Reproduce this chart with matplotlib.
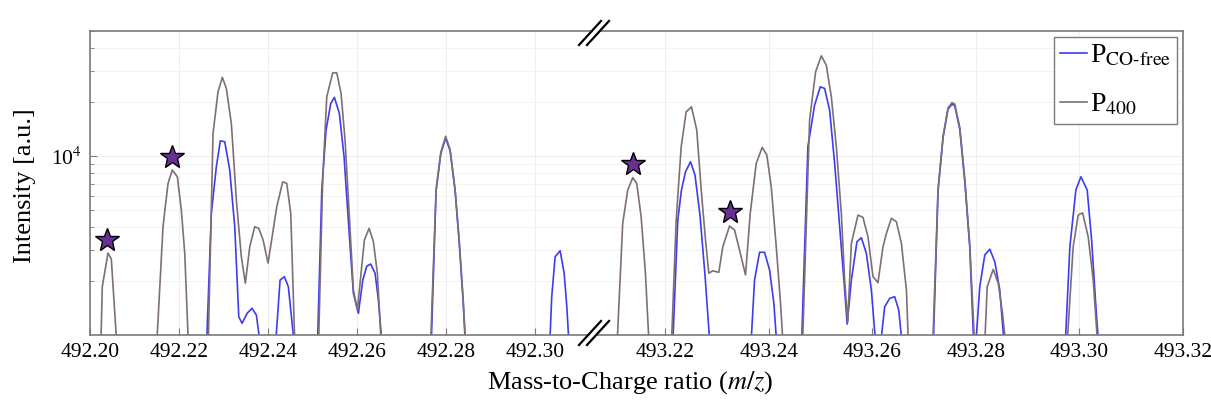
import numpy as np
import matplotlib.pyplot as plt
from matplotlib.lines import Line2D
from matplotlib.patches import Polygon
from matplotlib.ticker import FixedLocator, LogLocator, NullFormatter

plt.rcParams['font.family'] = ['Liberation Serif', 'DejaVu Serif']
plt.rcParams['mathtext.fontset'] = 'stix'

# profile spectra (m/z, intensity); 800 = signal dropped below the plotted range
mz_co_free = [
    492.22613, 492.22726, 492.22838, 492.22928, 492.23027, 492.23139, 492.23252, 492.23342, 492.23416,
    492.23535, 492.23640, 492.23737, 492.23849,
    492.24157, 492.24270, 492.24366, 492.24456, 492.24607,
    492.25106, 492.25207, 492.25303, 492.25409, 492.25490, 492.25602, 492.25708, 492.25813, 492.25917,
    492.26029, 492.26128, 492.26218, 492.26307, 492.26404, 492.26479, 492.26575,
    492.27660, 492.27775, 492.27881, 492.27989, 492.28090, 492.28202, 492.28292, 492.28382, 492.28443,
    492.30321, 492.30373, 492.30449, 492.30562, 492.30652, 492.30712, 492.30771,
    493.22135, 493.22238, 493.22309, 493.22387, 493.22484, 493.22571, 493.22667, 493.22764, 493.22870,
    493.23644, 493.23721, 493.23818, 493.23915, 493.24012, 493.24095, 493.24161,
    493.24625, 493.24752, 493.24882, 493.24992, 493.25075, 493.25172, 493.25269, 493.25366, 493.25463,
    493.25511, 493.25592, 493.25700, 493.25785, 493.25882, 493.25979, 493.26075,
    493.26139, 493.26236, 493.26333, 493.26429, 493.26507, 493.26590,
    493.27170, 493.27267, 493.27364, 493.27460, 493.27538, 493.27590, 493.27687, 493.27783, 493.27880,
    493.27963,
    493.27986, 493.28073, 493.28170, 493.28267, 493.28364, 493.28460, 493.28557,
    493.29718, 493.29814, 493.29930, 493.30027, 493.30149, 493.30234, 493.30317, 493.30381,
]
int_co_free = [
    800, 4786, 8716, 12170, 12020, 8355, 4027, 1265, 1162,
    1327, 1410, 1294, 800,
    800, 2027, 2118, 1862, 800,
    800, 6457, 13970, 19680, 21280, 17330, 9910, 4027, 1710,
    1321, 2027, 2427, 2493, 2213, 1570, 800,
    800, 6400, 10300, 12600, 10700, 6400, 3350, 1550, 800,
    800, 1637, 2735, 2957, 2213, 1439, 800,
    800, 4385, 6457, 8170, 9293, 7830, 4678, 2163, 800,
    800, 2027, 2898, 2898, 2306, 1503, 800,
    800, 11270, 19270, 24380, 23880, 18070, 9103, 4027, 1783,
    1151, 2027, 3320, 3497, 2858, 1783, 800,
    800, 1439, 1602, 1637, 1380, 800,
    800, 6400, 12700, 18300, 19500, 19100, 14100, 7250, 3080,
    800,
    800, 1862, 2800, 3016, 2565, 1783, 800,
    800, 3111, 6457, 7660, 6457, 3397, 1439, 800,
]

mz_400 = [
    492.20240, 492.20276, 492.20404, 492.20479, 492.20613,
    492.21490, 492.21640, 492.21753, 492.21849, 492.21962, 492.22052, 492.22128, 492.22218,
    492.22652, 492.22764, 492.22876, 492.22973, 492.23063, 492.23175, 492.23288, 492.23400, 492.23490,
    492.23589, 492.23701, 492.23791, 492.23888, 492.24000, 492.24196, 492.24330, 492.24420, 492.24510,
    492.24607,
    492.25130, 492.25227, 492.25319, 492.25452, 492.25544, 492.25640, 492.25730, 492.25827, 492.25917,
    492.26007, 492.26164, 492.26270, 492.26366, 492.26456, 492.26553,
    492.27645, 492.27775, 492.27881, 492.27989, 492.28090, 492.28202, 492.28292, 492.28382, 492.28450,
    493.21058, 493.21174, 493.21271, 493.21368, 493.21445, 493.21530, 493.21613, 493.21691,
    493.22110, 493.22207, 493.22304, 493.22400, 493.22503, 493.22605, 493.22691, 493.22774, 493.22838,
    493.22915, 493.23031, 493.23108, 493.23238, 493.23335, 493.23431, 493.23547, 493.23638, 493.23754,
    493.23870, 493.23959, 493.24044, 493.24141, 493.24219, 493.24282,
    493.24644, 493.24785, 493.24901, 493.25012, 493.25108, 493.25205, 493.25302, 493.25398, 493.25463,
    493.25521, 493.25592, 493.25720, 493.25816, 493.25913, 493.26010, 493.26106, 493.26203, 493.26269,
    493.26366, 493.26462, 493.26559, 493.26656, 493.26700,
    493.27160, 493.27267, 493.27364, 493.27460, 493.27538, 493.27590, 493.27687, 493.27783, 493.27880,
    493.27980,
    493.28162, 493.28217, 493.28333, 493.28430, 493.28513, 493.28590,
    493.29751, 493.29878, 493.29975, 493.30060, 493.30168, 493.30265, 493.30362,
]
int_400 = [
    800, 1862, 2871, 2660, 800,
    800, 4027, 7033, 8355, 7663, 4990, 2871, 800,
    800, 13390, 22860, 27540, 23880, 15230, 5680, 2737, 1946,
    3113, 4027, 3944, 3397, 2523, 5212, 7180, 7033, 4786,
    800,
    800, 7350, 21430, 29170, 29170, 22400, 12290, 4583, 1783,
    1380, 3397, 3944, 3320, 2213, 800,
    800, 6500, 10500, 12900, 10900, 6500, 3450, 1600, 800,
    800, 4207, 6457, 7570, 7033, 4583, 2213, 800,
    800, 4385, 11270, 17660, 18840, 13970, 6457, 3397, 2213,
    2286, 2239, 3111, 4066, 3862, 2985, 2163, 4785, 9103,
    11190, 10130, 6732, 3111, 1570, 800,
    800, 15890, 29580, 36320, 32200, 21430, 11270, 4785, 2027,
    1183, 3250, 4678, 4545, 3540, 2118, 1960, 3111, 3698,
    4490, 4297, 3250, 1783, 800,
    800, 6500, 12900, 18600, 19900, 19500, 14500, 7500, 3200,
    800,
    800, 1862, 2328, 1944, 1321, 800,
    800, 3111, 4678, 4819, 3540, 2027, 800,
]

# marked peaks
star_mz = [492.2039, 492.21843, 493.21368, 493.23238]
star_int = [3396, 9910, 9020, 4887]

left_ticks = [492.20, 492.22, 492.24, 492.26, 492.28, 492.30]
right_ticks = [493.22, 493.24, 493.26, 493.28, 493.30, 493.32]

blue = '#3c3cf0'
gray = '#7f6e77'
spine = '#7a7a7a'

W, H = 1211, 407
fig = plt.figure(figsize=(W / 100, H / 100), dpi=100)

def fx(px):
    return px / W

def fy(py):
    return 1 - py / H

ax1 = fig.add_axes([fx(90), fy(335), fx(593 - 90), fy(31) - fy(335)])
ax2 = fig.add_axes([fx(593), fy(335), fx(1183 - 593), fy(31) - fy(335)], sharey=ax1)

for ax in (ax1, ax2):
    ax.plot(mz_co_free, int_co_free, color=blue, lw=1.2, label=r'P$_{\text{CO-free}}$')
    ax.plot(mz_400, int_400, color=gray, lw=1.2, label=r'P$_{400}$')
    ax.plot(star_mz, star_int, ls='none', marker='*', ms=18, mfc='#6a2f95',
            mec='black', mew=1.0, zorder=5)
    ax.set_yscale('log')
    ax.grid(True, which='major', color='#eeeeee', lw=0.8)
    ax.grid(True, which='minor', axis='y', color='#f3f3f3', lw=0.8)
    ax.set_axisbelow(True)
    for s in ax.spines.values():
        s.set_color(spine)
        s.set_linewidth(1.2)
    ax.tick_params(axis='x', direction='in', length=5, color=spine, labelsize=15.5, pad=6)
    ax.tick_params(axis='y', which='both', direction='in', color=spine, labelsize=15.5, pad=6)

ax1.set_ylim(1000, 50000)
ax1.set_xlim(492.20, 492.313)
ax2.set_xlim(493.206, 493.32)
ax1.set_xticks(left_ticks)
ax1.set_xticklabels(['%.2f' % t for t in left_ticks])
ax2.set_xticks(right_ticks)
ax2.set_xticklabels(['%.2f' % t for t in right_ticks])

ax1.yaxis.set_major_locator(FixedLocator([1e4]))
ax1.set_yticklabels([r'10$^4$'])
ax1.yaxis.set_minor_locator(LogLocator(base=10, subs=np.arange(2, 10)))
ax1.yaxis.set_minor_formatter(NullFormatter())
ax1.tick_params(axis='y', which='major', length=5)
ax1.tick_params(axis='y', which='minor', length=3)
ax1.spines['right'].set_visible(False)
ax2.spines['left'].set_visible(False)
ax2.tick_params(axis='y', which='both', left=False, labelleft=False)

leg = ax2.legend(loc='upper right', fontsize=20, handlelength=1.0, handletextpad=0.1,
                 borderaxespad=0.2, borderpad=0.22, labelspacing=0.85, fancybox=False,
                 framealpha=1)
leg.get_frame().set_edgecolor(spine)
leg.get_frame().set_linewidth(1.0)

# break marks
for yc in (33, 333):
    gap = Polygon([(fx(583), fy(yc + 10)), (fx(600), fy(yc - 10)),
                   (fx(607), fy(yc - 10)), (fx(590), fy(yc + 10))],
                  closed=True, transform=fig.transFigure, fc='white', ec='none', zorder=10)
    fig.add_artist(gap)
    for dx in (-4, 4):
        fig.add_artist(Line2D([fx(583 + dx), fx(605 + dx)], [fy(yc + 12), fy(yc - 12)],
                              transform=fig.transFigure, color='black', lw=1.6, zorder=11))

fig.text(fx(630), fy(383), r'Mass-to-Charge ratio ($m/z$)', ha='center', va='center', fontsize=19)
fig.text(fx(25), fy(186), 'Intensity [a.u.]', ha='center', va='center', rotation=90, fontsize=19)

fig.savefig('out.png', dpi=100)
